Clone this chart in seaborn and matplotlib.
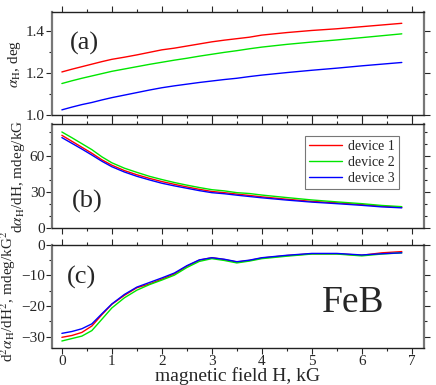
import numpy as np
import pandas as pd
import matplotlib
matplotlib.use('Agg')
import matplotlib.pyplot as plt
import seaborn as sns
from matplotlib.ticker import MultipleLocator, FormatStrFormatter

# magnetic field, kG
field = [0, 0.2, 0.4, 0.6, 0.8, 1.0, 1.25, 1.5, 1.75, 2.0, 2.25, 2.5, 2.75,
         3.0, 3.25, 3.5, 3.75, 4.0, 4.5, 5.0, 5.5, 6.0, 6.4, 6.8]
devices = ['device 1', 'device 2', 'device 3']
colors = ['#ff0000', '#00e600', '#0000ff']

# (a) alpha_H, deg
alpha_d1 = [1.205, 1.218, 1.230, 1.242, 1.254, 1.265, 1.275, 1.286, 1.298, 1.310, 1.318, 1.328,
            1.338, 1.348, 1.356, 1.363, 1.370, 1.380, 1.392, 1.402, 1.410, 1.420, 1.428, 1.436]
alpha_d2 = [1.150, 1.163, 1.175, 1.186, 1.197, 1.208, 1.219, 1.230, 1.241, 1.251, 1.261, 1.270,
            1.280, 1.289, 1.298, 1.306, 1.315, 1.323, 1.336, 1.347, 1.357, 1.368, 1.377, 1.386]
alpha_d3 = [1.025, 1.038, 1.050, 1.060, 1.072, 1.083, 1.095, 1.107, 1.119, 1.130, 1.139, 1.147,
            1.155, 1.162, 1.169, 1.175, 1.183, 1.190, 1.202, 1.213, 1.223, 1.234, 1.242, 1.250]

# (b) d alpha / dH, mdeg/kG
d1_d1 = [77.5, 72.5, 67.5, 62.5, 57.0, 52.5, 48.0, 44.5, 41.5, 38.8, 36.5, 34.3,
         32.3, 30.5, 29.5, 28.3, 27.2, 26.0, 24.0, 22.2, 21.0, 19.5, 18.2, 17.2]
d1_d2 = [80.3, 75.5, 70.5, 65.5, 59.5, 54.5, 50.0, 46.5, 43.2, 40.5, 38.0, 35.8,
         33.8, 32.0, 31.0, 29.5, 28.8, 27.5, 25.4, 23.4, 21.8, 20.3, 18.8, 17.8]
d1_d3 = [75.6, 70.8, 66.0, 61.0, 55.8, 51.2, 46.8, 43.2, 40.2, 37.4, 35.2, 33.2,
         31.2, 29.5, 28.6, 27.4, 26.3, 25.2, 23.3, 21.6, 20.3, 18.9, 17.6, 16.8]

# (c) d2 alpha / dH2, mdeg/kG^2
d2_d1 = [-30.2, -29.6, -28.6, -26.5, -22.8, -19.4, -16.5, -14.0, -12.8, -11.2, -9.5, -7.0,
         -5.0, -4.2, -4.8, -5.6, -5.1, -4.3, -3.5, -2.9, -2.9, -3.4, -2.6, -2.2]
d2_d2 = [-31.4, -30.6, -29.8, -28.0, -24.3, -20.6, -17.3, -14.8, -13.0, -11.5, -9.9, -7.4,
         -5.4, -4.5, -5.1, -5.9, -5.3, -4.5, -3.7, -3.0, -3.0, -3.6, -3.0, -2.6]
d2_d3 = [-28.9, -28.3, -27.4, -25.8, -22.5, -19.3, -16.2, -13.8, -12.3, -10.8, -9.2, -6.8,
         -4.9, -4.2, -4.7, -5.5, -5.0, -4.2, -3.4, -2.8, -2.8, -3.3, -2.9, -2.6]


def long_frame(series):
    rows = []
    for dev, vals in zip(devices, series):
        for h, v in zip(field, vals):
            rows.append({'H': h, 'y': v, 'device': dev})
    return pd.DataFrame(rows)


sns.set_style('ticks')
plt.rcParams['font.family'] = ['Liberation Serif', 'DejaVu Serif']
plt.rcParams['mathtext.fontset'] = 'stix'

fig = plt.figure(figsize=(4.36, 3.85), dpi=100)
left, width = 0.119, 0.853
ax_a = fig.add_axes([left, 0.701, width, 0.268])
ax_b = fig.add_axes([left, 0.408, width, 0.270])
ax_c = fig.add_axes([left, 0.096, width, 0.268])

panels = [
    (ax_a, [alpha_d1, alpha_d2, alpha_d3], (1.0, 1.49), 0.2, 0.1, r'$\alpha_{\rm H}$, deg'),
    (ax_b, [d1_d1, d1_d2, d1_d3], (0, 87), 30, 10, r'd$\alpha_{\rm H}$/dH, mdeg/kG'),
    (ax_c, [d2_d1, d2_d2, d2_d3], (-33.7, 0), 10, 5, r'd$^2\alpha_{\rm H}$/dH$^2$, mdeg/kG$^2$'),
]

for ax, series, ylim, major, minor, ylab in panels:
    df = long_frame(series)
    sns.lineplot(data=df, x='H', y='y', hue='device', palette=colors,
                 linewidth=1.0, ax=ax, legend=(ax is ax_b), sort=False)
    ax.set_xlim(-0.2, 7.24)
    ax.set_ylim(*ylim)
    ax.xaxis.set_major_locator(MultipleLocator(1))
    ax.xaxis.set_minor_locator(MultipleLocator(0.5))
    ax.yaxis.set_major_locator(MultipleLocator(major))
    ax.yaxis.set_minor_locator(MultipleLocator(minor))
    ax.tick_params(which='both', direction='out', top=True, right=True,
                   labelsize=11, pad=1)
    ax.tick_params(which='major', length=4, width=0.8)
    ax.tick_params(which='minor', length=2.5, width=0.8)
    ax.set_ylabel(ylab, fontsize=11, labelpad=2)
    ax.set_xlabel('')
    for side in ['left', 'right']:
        ax.spines[side].set_color('#777777')
        ax.spines[side].set_linewidth(1.6)
    for side in ['top', 'bottom']:
        ax.spines[side].set_color('#222222')
        ax.spines[side].set_linewidth(1.0)
    if ax is not ax_c:
        ax.tick_params(labelbottom=False)

ax_a.yaxis.set_major_formatter(FormatStrFormatter('%.1f'))
ax_a.text(0.15, 1.31, '(a)', fontsize=19)
ax_b.text(0.2, 17, '(b)', fontsize=19)
ax_c.text(0.1, -12.8, '(c)', fontsize=19)
ax_c.text(5.2, -22, 'FeB', fontsize=27)
ax_c.set_xlabel('magnetic field H, kG', fontsize=14, labelpad=-0.5)

leg = ax_b.legend(loc='upper right', bbox_to_anchor=(0.933, 0.885), fontsize=10,
                  frameon=True, fancybox=False, edgecolor='#555555',
                  handlelength=2.4, borderpad=0.3, labelspacing=0.2,
                  handletextpad=0.4, borderaxespad=0)
leg.get_frame().set_linewidth(0.8)
leg.set_title(None)

fig.savefig('out.png', dpi=100)
